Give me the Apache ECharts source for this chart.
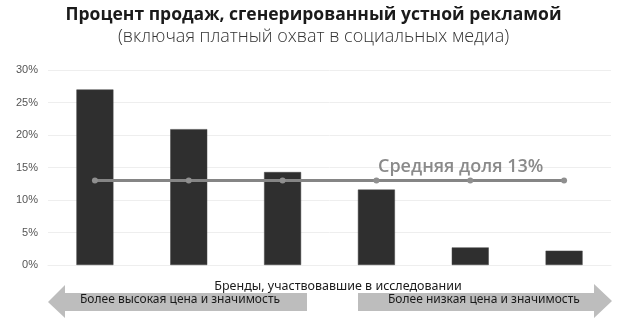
<!DOCTYPE html>
<html>
<head>
<meta charset="utf-8">
<script src="https://cdn.jsdelivr.net/npm/echarts@6/dist/echarts.min.js"></script>
<style>
  html, body { margin: 0; padding: 0; background: #fff; }
  #chart { width: 627px; height: 336px; }
</style>
</head>
<body>
<div id="chart"></div>
<script>
// Brands in the survey, ordered from higher to lower price and significance
const brands = ['Бренд 1', 'Бренд 2', 'Бренд 3', 'Бренд 4', 'Бренд 5', 'Бренд 6'];
// Share of sales generated by word of mouth, %
const wordOfMouthShare = [27.0, 20.9, 14.3, 11.6, 2.7, 2.2];
// Average share across the brands, %
const averageShare = 13;
const averageLine = brands.map(() => averageShare);
const yTicks = [0, 5, 10, 15, 20, 25, 30];

const titleText = 'Процент продаж, сгенерированный устной рекламой';
const subtitleText = '(включая платный охват в социальных медиа)';
const axisName = 'Бренды, участвовавшие в исследовании';
const leftArrowText = 'Более высокая цена и значимость';
const rightArrowText = 'Более низкая цена и значимость';
const averageText = 'Средняя доля ' + averageShare + '%';

const chart = echarts.init(document.getElementById('chart'), null, { renderer: 'canvas' });

const arrowFill = '#bdbdbd';

chart.setOption({
  animation: false,
  backgroundColor: '#ffffff',
  title: [
    {
      text: titleText,
      left: 'center',
      top: 1,
      textStyle: { fontFamily: 'Open Sans', fontWeight: 'bold', fontSize: 17.5, color: '#1a1a1a' }
    },
    {
      text: subtitleText,
      left: 'center',
      top: 23,
      textStyle: { fontFamily: 'Open Sans', fontWeight: 300, fontSize: 18, color: '#333' }
    }
  ],
  grid: { left: 48, right: 16, top: 70, bottom: 71, containLabel: false },
  xAxis: {
    type: 'category',
    data: brands,
    axisTick: { show: false },
    axisLabel: { show: false },
    axisLine: { show: true, lineStyle: { color: '#eeeeee', width: 1 } },
    name: axisName,
    nameLocation: 'middle',
    nameGap: 15,
    nameTextStyle: { fontFamily: 'Noto Sans', fontSize: 12.5, color: '#1a1a1a', padding: [0, 0, 0, 17] }
  },
  yAxis: {
    type: 'value',
    min: yTicks[0],
    max: yTicks[yTicks.length - 1],
    interval: 5,
    axisLine: { show: false },
    axisTick: { show: false },
    axisLabel: {
      formatter: '{value}%',
      fontFamily: 'Liberation Sans',
      fontSize: 11,
      color: '#555',
      margin: 10
    },
    splitLine: { lineStyle: { color: '#eeeeee', width: 1 } }
  },
  series: [
    {
      type: 'bar',
      data: wordOfMouthShare,
      barWidth: 37,
      itemStyle: { color: '#2f2f2f', borderColor: '#444', borderWidth: 0.5 },
      z: 2
    },
    {
      type: 'line',
      data: averageLine,
      symbol: 'circle',
      symbolSize: 6,
      lineStyle: { color: '#858585', width: 3 },
      itemStyle: { color: '#8f8f8f' },
      z: 3,
      label: { show: false }
    }
  ],
  graphic: [
    {
      type: 'text',
      left: 378,
      top: 158,
      style: { text: averageText, fontFamily: 'Open Sans', fontWeight: 600, fontSize: 18, fill: '#8a8a8a' },
      z: 10
    },
    {
      // left-pointing arrow
      type: 'polygon',
      shape: { points: [[48, 302], [65, 285], [65, 293], [307, 293], [307, 311], [65, 311], [65, 318]] },
      style: { fill: arrowFill },
      z: 5
    },
    {
      type: 'text',
      left: 80,
      top: 294,
      style: { text: leftArrowText, fontFamily: 'Noto Sans', fontSize: 12, fill: '#1a1a1a' },
      z: 6
    },
    {
      // right-pointing arrow
      type: 'polygon',
      shape: { points: [[358, 293], [594, 293], [594, 284], [612, 301], [594, 318], [594, 311], [358, 311]] },
      style: { fill: arrowFill },
      z: 5
    },
    {
      type: 'text',
      left: 388,
      top: 294,
      style: { text: rightArrowText, fontFamily: 'Noto Sans', fontSize: 12, fill: '#1a1a1a' },
      z: 6
    }
  ]
});
</script>
</body>
</html>
